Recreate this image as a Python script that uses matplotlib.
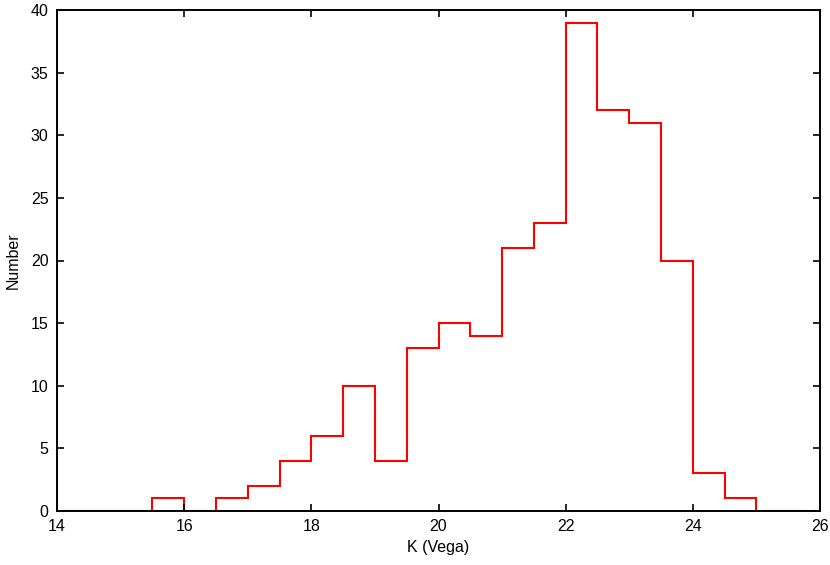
import matplotlib
matplotlib.use("Agg")
import matplotlib.pyplot as plt
import numpy as np

plt.rcParams['font.family'] = ['Liberation Sans', 'DejaVu Sans']

bin_edges = [14.0, 14.5, 15.0, 15.5, 16.0, 16.5, 17.0, 17.5, 18.0, 18.5, 19.0,
             19.5, 20.0, 20.5, 21.0, 21.5, 22.0, 22.5, 23.0, 23.5, 24.0, 24.5,
             25.0, 25.5, 26.0]
counts = [0, 0, 0, 1, 0, 1, 2, 4, 6, 10, 4, 13, 15, 14, 21, 23, 39, 32, 31,
          20, 3, 1, 0, 0]
x_ticks = [14, 16, 18, 20, 22, 24, 26]
y_ticks = [0, 5, 10, 15, 20, 25, 30, 35, 40]

fig = plt.figure(figsize=(8.3, 5.65), dpi=100)
ax = fig.add_axes([57/830, 1 - 511/565, (820-57)/830, (511-10)/565])

ax.stairs(counts, bin_edges, color='#ff0000', linewidth=1.5, zorder=1)

ax.set_xlim(14, 26)
ax.set_ylim(0, 40)
ax.set_xticks(x_ticks)
ax.set_yticks(y_ticks)
ax.tick_params(direction='in', length=5, width=1.2, top=True, right=True,
               labelsize=11.5, pad=6, colors='black')
for s in ax.spines.values():
    s.set_linewidth(1.4)
    s.set_zorder(3)

ax.set_xlabel('K (Vega)', fontsize=11.5, labelpad=4)
ax.set_ylabel('Number', fontsize=11.5, labelpad=7)

fig.savefig('out.png', dpi=100)
